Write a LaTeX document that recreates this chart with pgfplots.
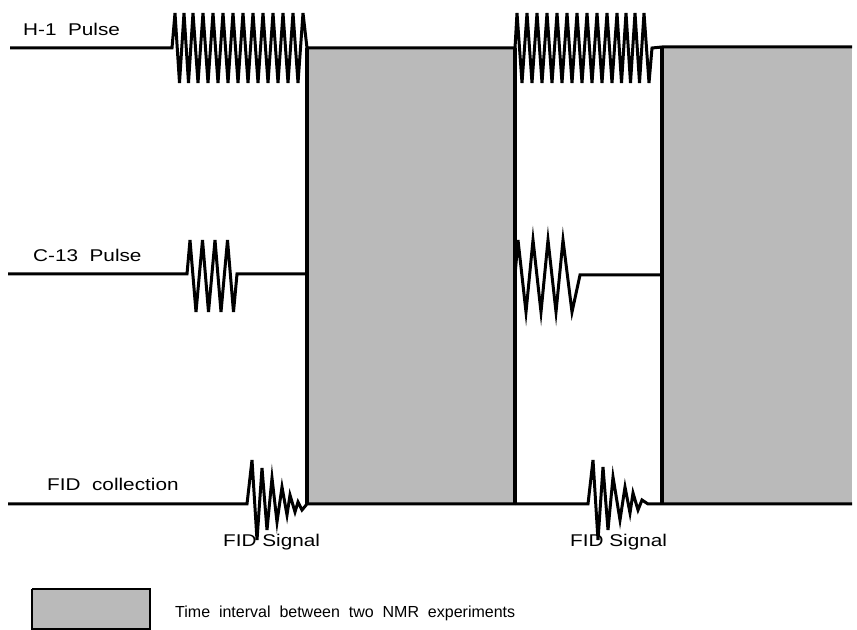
\documentclass[border=0pt]{standalone}
\usepackage{fontspec}
\setmainfont{Liberation Sans}
\newfontfamily\labfont{Liberation Sans}[FakeStretch=1.22]
\newfontfamily\legfont{Liberation Sans}
\usepackage{pgfplots}
\pgfplotsset{compat=1.18}
\begin{document}
\begin{tikzpicture}
\begin{axis}[width=857bp, height=630bp, scale only axis,
  xmin=0, xmax=857, ymin=0, ymax=630, y dir=reverse,
  hide axis, clip=false]
% shaded intervals
\addplot[fill=black!27, draw=none] coordinates {(307,48) (515,48) (515,504) (307,504)};
\addplot[fill=black!27, draw=none] coordinates {(662,47) (852,47) (852,504) (662,504)};
% legend box
\addplot[fill=black!27, draw=black, line width=2bp] coordinates {(32,589) (150,589) (150,629) (32,629) (32,589)};
% H-1 pulse line
\addplot[black, line width=3bp] coordinates {(10,48) (172,48) (175,13) (179.5,83) (184,13) (188.5,83) (193,13) (198,83) (203,13) (208,83) (213,13) (218,83) (223,13) (228,83) (233,13) (238,83) (243,13) (248,83) (253,13) (258,83) (263,13) (268,83) (273,13) (278,83) (283,13) (288,83) (293,13) (298,83) (303,13) (307,48) (515,48)};
\addplot[black, line width=3bp] coordinates {(515,48) (517,13) (522,83) (527,13) (532,83) (537,13) (542,83) (547,13) (552,83) (557,13) (562,83) (567,13) (572,83) (577,13) (582,83) (587,13) (592,83) (597,13) (602,83) (607,13) (612,83) (617,13) (621.5,83) (626,13) (630.5,83) (635,13) (639.5,83) (644,13) (649,83) (652,48) (662,47) (852,47)};
% C-13 pulse line
\addplot[black, line width=3bp] coordinates {(8,274) (187,274) (190,240) (196,312) (202.5,240) (208.5,312) (215,240) (221,312) (227.5,240) (233.5,312) (237,274) (307,274)};
\addplot[black, line width=3bp] coordinates {(515,275) (518,240) (526,312) (533,240) (541,312) (548,240) (556,312) (563,240) (572,312) (580,275) (662,275)};
% FID line
\addplot[black, line width=3bp] coordinates {(8,504) (247,504) (252,460) (257,540) (262,468) (267,530) (272,478) (277,522) (282,487) (287,515) (290,495) (295,512) (298,502) (302,510) (307,504) (515,504)};
\addplot[black, line width=3bp] coordinates {(515,504) (588,504) (593,460) (598,540) (603,467) (608,530) (613,477) (620,520) (625,487) (630,513) (633,493) (638,510) (642,500) (648,504) (662,504) (852,504)};
% vertical borders
\addplot[black, line width=3.2bp] coordinates {(307,48) (307,504)};
\addplot[black, line width=3.2bp] coordinates {(515,48) (515,504)};
\addplot[black, line width=3.2bp] coordinates {(662,46) (662,504)};
% labels
\node[anchor=base west, inner sep=0pt, font=\labfont\fontsize{17bp}{20bp}\selectfont] at (axis cs:23,36) {H-1\ \ Pulse};
\node[anchor=base west, inner sep=0pt, font=\labfont\fontsize{17bp}{20bp}\selectfont] at (axis cs:33,262) {C-13\ \ Pulse};
\node[anchor=base west, inner sep=0pt, font=\labfont\fontsize{17bp}{20bp}\selectfont] at (axis cs:47,491) {FID\ \ collection};
\node[anchor=base west, inner sep=0pt, font=\labfont\fontsize{17bp}{20bp}\selectfont] at (axis cs:223,547) {FID Signal};
\node[anchor=base west, inner sep=0pt, font=\labfont\fontsize{17bp}{20bp}\selectfont] at (axis cs:570,547) {FID Signal};
\node[anchor=base west, inner sep=0pt, font=\legfont\fontsize{16bp}{19bp}\selectfont] at (axis cs:175,618) {Time\ \ interval\ \ between\ \ two\ \ NMR\ \ experiments};
\end{axis}
\pgfresetboundingbox
\path (current axis.south west) rectangle (current axis.north east);
\end{tikzpicture}
\end{document}
